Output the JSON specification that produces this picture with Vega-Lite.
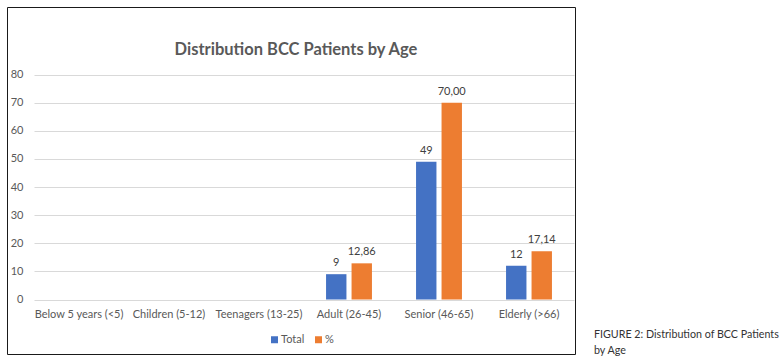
{
  "$schema": "https://vega.github.io/schema/vega-lite/v6.json",
  "padding": {"left": 6, "top": 6, "right": 0, "bottom": 0},
  "background": "white",
  "config": {"font": "Lato", "concat": {"spacing": 18}, "view": {"stroke": null}},
  "hconcat": [
    {
      "width": 568,
      "height": 347,
      "view": {"stroke": "#1a1a1a", "strokeWidth": 1},
      "title": {"text": "Distribution BCC Patients by Age", "font": "Lato", "fontSize": 16.5, "fontWeight": "bold", "color": "#595959", "anchor": "middle", "offset": -51, "dx": 5},
      "data": {"values": [
        {"group": "Adult (26-45)", "series": "Total", "value": 9, "label": "9"},
        {"group": "Adult (26-45)", "series": "%", "value": 12.86, "label": "12,86"},
        {"group": "Senior (46-65)", "series": "Total", "value": 49, "label": "49"},
        {"group": "Senior (46-65)", "series": "%", "value": 70.0, "label": "70,00"},
        {"group": "Elderly (>66)", "series": "Total", "value": 12, "label": "12"},
        {"group": "Elderly (>66)", "series": "%", "value": 17.14, "label": "17,14"}
      ]},
      "encoding": {
        "x": {
          "field": "group", "type": "nominal", "sort": null,
          "scale": {"domain": ["Below 5 years (<5)", "Children (5-12)", "Teenagers (13-25)", "Adult (26-45)", "Senior (46-65)", "Elderly (>66)"], "range": [27, 567], "paddingInner": 0.49, "paddingOuter": 0.245},
          "axis": {"title": null, "domain": false, "ticks": false, "grid": false, "labelPadding": 0, "offset": -46, "labelAngle": 0, "labelBaseline": "top", "labelColor": "#595959", "labelFontSize": 11, "labelFont": "Lato", "labelOverlap": false, "labelLimit": 200}
        },
        "xOffset": {"field": "series", "type": "nominal", "sort": ["Total", "%"], "scale": {"domain": ["Total", "%"], "paddingInner": 0.2}},
        "y": {
          "field": "value", "type": "quantitative",
          "scale": {"domain": [0, 80], "range": [292.5, 67.5], "nice": false, "zero": true},
          "axis": {"title": null, "values": [0, 10, 20, 30, 40, 50, 60, 70, 80], "domain": false, "ticks": false, "labelPadding": 2, "offset": -18, "grid": true, "gridColor": "#D9D9D9", "gridWidth": 1, "labelColor": "#595959", "labelFontSize": 11, "labelFont": "Lato"}
        }
      },
      "layer": [
        {
          "mark": {"type": "bar"},
          "encoding": {
            "color": {
              "field": "series", "type": "nominal",
              "scale": {"domain": ["Total", "%"], "range": ["#4472C4", "#ED7D31"]},
              "legend": {"orient": "none", "legendX": 262, "legendY": 327, "direction": "horizontal", "title": null, "symbolType": "square", "symbolSize": 49, "symbolStrokeWidth": 0, "labelFontSize": 11, "labelFont": "Lato", "labelColor": "#595959", "columnPadding": 8, "padding": 0, "labelOffset": 1}
            }
          }
        },
        {
          "mark": {"type": "text", "baseline": "alphabetic", "dy": -8, "fontSize": 11, "font": "Lato", "color": "#404040"},
          "encoding": {"text": {"field": "label", "type": "nominal"}}
        }
      ]
    },
    {
      "width": 190,
      "height": 347,
      "data": {"values": [{}]},
      "mark": {"type": "text", "text": ""},
      "encoding": {},
      "title": {"text": ["FIGURE 2: Distribution of BCC Patients", "by Age"], "orient": "bottom", "anchor": "start", "offset": -24, "font": "Lato", "fontSize": 10.7, "fontWeight": "normal", "color": "#333333", "lineHeight": 16}
    }
  ]
}
